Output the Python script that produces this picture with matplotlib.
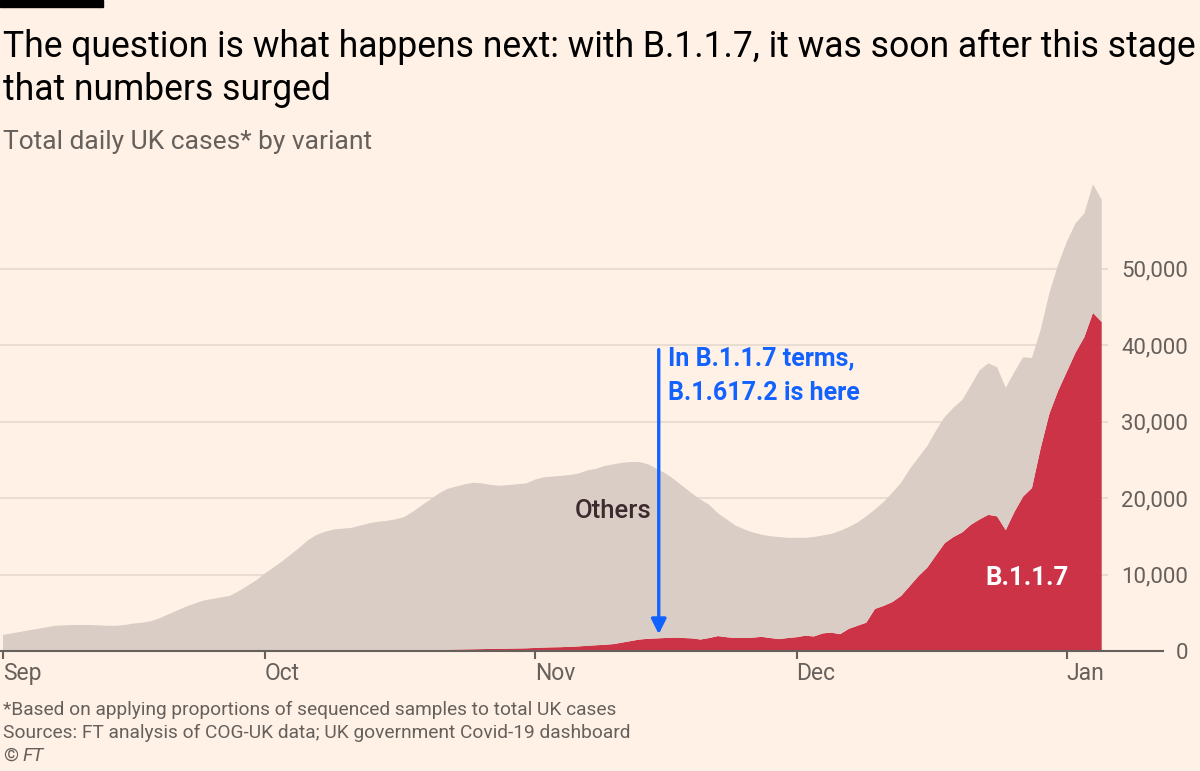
import numpy as np
import pandas as pd
import matplotlib
matplotlib.use("Agg")
from matplotlib import pyplot as plt
import matplotlib.dates as mdates

# Daily UK cases by variant, 1 Sep 2020 - 5 Jan 2021
start = pd.Timestamp("2020-09-01")

total_cases = [
    2100, 2300, 2500, 2700, 2900, 3100, 3300, 3350, 3400, 3400,
    3400, 3350, 3300, 3300, 3400, 3600, 3700, 3900, 4300, 4800,
    5300, 5800, 6200, 6600, 6800, 7000, 7200, 7800, 8500, 9200,
    10100, 10900, 11700, 12600, 13500, 14500, 15200, 15600, 15900, 16000,
    16100, 16400, 16700, 16900, 17000, 17200, 17500, 18200, 19000, 19800,
    20600, 21200, 21500, 21800, 22000, 21900, 21700, 21600, 21700, 21800,
    21900, 22400, 22700, 22800, 22900, 23000, 23200, 23600, 23800, 24200,
    24400, 24600, 24700, 24700, 24400, 23800, 23200, 22400, 21500, 20600,
    19800, 19100, 18000, 17200, 16400, 15900, 15500, 15200, 15000, 14900,
    14800, 14800, 14800, 14900, 15100, 15300, 15700, 16200, 16800, 17600,
    18500, 19500, 20700, 22000, 23800, 25300, 26800, 28800, 30600, 31800,
    32800, 34700, 36700, 37600, 37100, 34400, 36500, 38400, 38300, 42000,
    46800, 50500, 53500, 55900, 57200, 61000, 59000,
]

b117_cases = [
    0, 0, 0, 0, 0, 0, 0, 0, 0, 0,
    0, 0, 0, 0, 0, 0, 0, 0, 0, 0,
    0, 0, 0, 0, 0, 0, 0, 0, 0, 0,
    10, 10, 20, 20, 30, 40, 50, 50, 60, 70,
    80, 80, 90, 100, 100, 110, 120, 130, 140, 150,
    150, 170, 190, 210, 230, 250, 270, 290, 310, 330,
    350, 400, 450, 480, 500, 550, 600, 680, 750, 820,
    900, 1100, 1300, 1500, 1600, 1650, 1700, 1750, 1700, 1650,
    1500, 1700, 1950, 1800, 1700, 1700, 1750, 1850, 1700, 1550,
    1700, 1800, 2000, 1900, 2300, 2400, 2200, 2900, 3300, 3700,
    5500, 5900, 6400, 7200, 8500, 9800, 10900, 12500, 14100, 14900,
    15500, 16500, 17200, 17800, 17600, 15800, 18200, 20200, 21300, 26500,
    31000, 34000, 36500, 39000, 41000, 44200, 43000,
]

y_ticks = [0, 10000, 20000, 30000, 40000, 50000]

dates = pd.date_range(start, periods=len(total_cases), freq="D")
total = np.array(total_cases)
b117 = np.array(b117_cases)
others = total - b117

BG = "#FFF1E5"
GREY_AREA = "#D9CDC5"
RED = "#CC3347"
BLUE = "#1262FF"
TEXT_GREY = "#66605C"
GRID = "#E9DCD1"

plt.rcParams["font.family"] = ["Roboto", "DejaVu Sans"]

W, H = 1200, 771
fig = plt.figure(figsize=(W / 100, H / 100), dpi=100, facecolor=BG)

# axes: Sep 1 at x=3px, 8.72 px per day; y=0 at 651px, 7.65 px per 1000
px_day = 8.72
px_val = 7.65 / 1000
ax_left, ax_right = 0, 1163
ax_bottom, ax_top = 651, 173
ax = fig.add_axes([ax_left / W, (H - ax_bottom) / H,
                   (ax_right - ax_left) / W, (ax_bottom - ax_top) / H])
ax.set_facecolor(BG)

x0 = start - pd.Timedelta(days=3 / px_day)
x1 = x0 + pd.Timedelta(days=(ax_right - ax_left) / px_day)
ax.set_xlim(x0, x1)
ax.set_ylim(0, (ax_bottom - ax_top) / px_val)

# gridlines stop just short of the labels
grid_end = x0 + pd.Timedelta(days=1108 / px_day)
for v in y_ticks[1:]:
    ax.hlines(v, x0, grid_end, color=GRID, lw=1.5, zorder=0)

ax.stackplot(dates, b117, others, colors=[RED, GREY_AREA], linewidth=0, zorder=2)

for s in ["top", "right", "left"]:
    ax.spines[s].set_visible(False)
ax.spines["bottom"].set_color(TEXT_GREY)
ax.spines["bottom"].set_linewidth(1.5)
ax.spines["bottom"].set_zorder(3)

ax.xaxis.set_major_locator(mdates.MonthLocator())
ax.xaxis.set_major_formatter(mdates.DateFormatter("%b"))
ax.tick_params(axis="x", direction="out", length=6, width=1.5, color=TEXT_GREY,
               labelsize=16.5, labelcolor=TEXT_GREY, pad=2)
for lbl in ax.get_xticklabels():
    lbl.set_ha("left")

ax.set_yticks(y_ticks)
ax.set_yticklabels([f"{v:,}" for v in y_ticks])
ax.yaxis.tick_right()
ax.tick_params(axis="y", length=0, labelsize=16, labelcolor=TEXT_GREY, pad=18)
for lbl in ax.get_yticklabels():
    lbl.set_ha("right")

# arrow annotation
arrow_date = start + pd.Timedelta(days=75.2)
ax.annotate("", xy=(arrow_date, 2200), xytext=(arrow_date, 39400),
            arrowprops=dict(arrowstyle="-|>,head_length=0.9,head_width=0.45",
                            color=BLUE, lw=2.4, shrinkA=0, shrinkB=0), zorder=5)
ax.text(start + pd.Timedelta(days=76.3), 39800, "In B.1.1.7 terms,\nB.1.617.2 is here",
        color=BLUE, fontsize=18, fontweight="bold", va="top", ha="left",
        linespacing=1.55, zorder=5)

ax.text(start + pd.Timedelta(days=70), 18300, "Others", color="#3D2A2E",
        fontsize=18.5, fontweight="medium", ha="center", va="center", zorder=5)
ax.text(start + pd.Timedelta(days=117.4), 9540, "B.1.1.7", color="white",
        fontsize=18.5, fontweight="bold", ha="center", va="center", zorder=5)

# header
fig.patches.append(plt.Rectangle((0, 1 - 7 / H), 103 / W, 7 / H,
                                 transform=fig.transFigure, color="black"))
fig.text(3 / W, 1 - 47 / H, "The question is what happens next: with B.1.1.7, it was soon after this stage",
         fontsize=25.6, color="black", va="center", ha="left")
fig.text(3 / W, 1 - 90 / H, "that numbers surged",
         fontsize=25.6, color="black", va="center", ha="left")
fig.text(3 / W, 1 - 142 / H, "Total daily UK cases* by variant",
         fontsize=19, color=TEXT_GREY, va="center", ha="left")

# footer
fig.text(3 / W, 1 - 710 / H, "*Based on applying proportions of sequenced samples to total UK cases",
         fontsize=13.8, color=TEXT_GREY, va="center", ha="left")
fig.text(3 / W, 1 - 733 / H, "Sources: FT analysis of COG-UK data; UK government Covid-19 dashboard",
         fontsize=13.8, color=TEXT_GREY, va="center", ha="left")
fig.text(3 / W, 1 - 756 / H, "©", fontsize=13.8, color=TEXT_GREY, va="center", ha="left")
fig.text(22 / W, 1 - 756 / H, "FT", fontsize=13.8, color=TEXT_GREY, va="center", ha="left",
         style="italic")

fig.savefig("out.png", dpi=100, facecolor=BG)
